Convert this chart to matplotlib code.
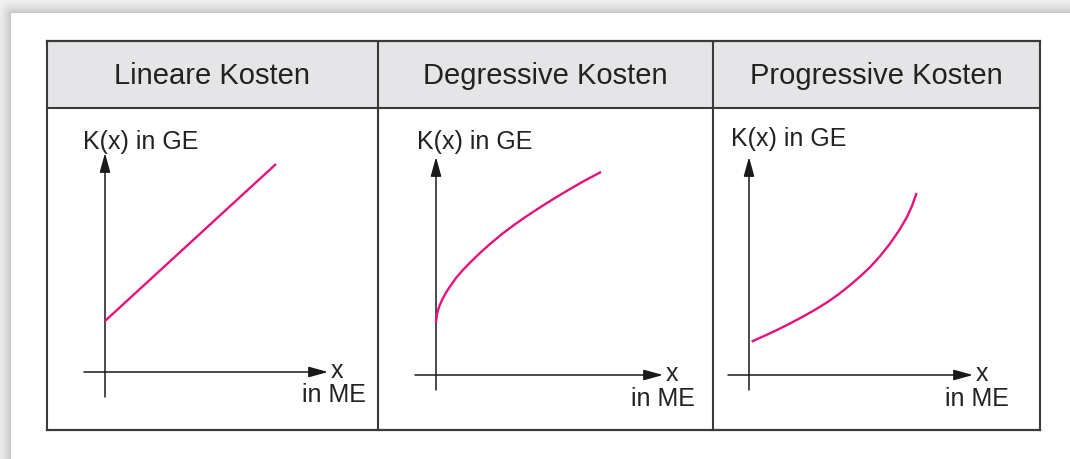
# %%
## Imports ##

import numpy as np
import matplotlib

matplotlib.use("Agg")
import matplotlib.pyplot as plt
from matplotlib.patches import Rectangle

plt.rcParams["font.family"] = ["Liberation Sans", "DejaVu Sans"]

# %%
## Data ##

headers = ["Lineare Kosten", "Degressive Kosten", "Progressive Kosten"]
y_label = "K(x) in GE"
x_label = "x"
x_unit = "in ME"

# curves (x in ME, K(x) in GE, arbitrary units)
linear_x = [0.0, 8.55]
linear_y = [2.55, 10.4]

degressive_x = [0.0, 0.05, 0.15, 0.3, 0.5, 0.75, 1.0, 1.3, 1.7, 2.2,
                2.7, 3.3, 3.9, 4.5, 5.2, 5.9, 6.6, 7.4, 8.25]
degressive_y = [2.63, 3.05, 3.4, 3.75, 4.12, 4.5, 4.85, 5.2, 5.62, 6.1,
                6.55, 7.05, 7.5, 7.92, 8.38, 8.82, 9.24, 9.7, 10.15]

progressive_x = [0.13, 0.8, 1.4, 2.0, 2.7, 3.3, 3.9, 4.5, 5.05, 5.55,
                 6.05, 6.55, 7.05, 7.5, 7.9, 8.15, 8.38]
progressive_y = [1.67, 1.97, 2.25, 2.55, 2.92, 3.26, 3.63, 4.05, 4.49, 4.92,
                 5.39, 5.94, 6.57, 7.22, 7.9, 8.45, 9.1]

curves = [
    (linear_x, linear_y),
    (degressive_x, degressive_y),
    (progressive_x, progressive_y),
]

# %%
## Layout (pixels) ##

W, H = 1070, 459
PX = 20.0  # pixels per data unit
table_left, table_right = 47, 1040
table_top, header_bottom, table_bottom = 41, 108, 430
col_edges = [47, 378, 713, 1040]
origins = [(105, 372), (436, 375), (749, 375)]
x_axis_ext = [(-1.05, 11.15), (-1.05, 11.35), (-1.05, 11.2)]
y_axis_ext = [(-1.25, 10.95), (-0.75, 10.9), (-0.75, 10.9)]
ylabel_pos = [(-1.1, 11.5), (-0.97, 11.67), (-0.92, 11.78)]
unit_pos = [(13.05, -1.15), (12.95, -1.2), (13.0, -1.2)]

pink = "#e5127d"
line_col = "#3a3a3a"
text_col = "#222222"

fig = plt.figure(figsize=(W / 100, H / 100), dpi=100)
bg = fig.add_axes([0, 0, 1, 1])
bg.set_xlim(0, W)
bg.set_ylim(H, 0)
bg.axis("off")

# page drop shadow at top and left
yy, xx = np.mgrid[0:H, 0:W]
dx = np.clip(11 - xx, 0, None)
dy = np.clip(13 - yy, 0, None)
dist = np.hypot(dx, dy)
shade = np.where(dist > 0, 1 - 0.24 * np.exp(-dist / 10), 1.0)
bg.imshow(shade, cmap="gray", vmin=0, vmax=1, extent=[0, W, H, 0], zorder=0)

# table
bg.add_patch(
    Rectangle(
        (table_left, table_top),
        table_right - table_left,
        header_bottom - table_top,
        facecolor="#e5e5e7",
        edgecolor="none",
        zorder=1,
    )
)
bg.plot([table_left, table_right], [header_bottom] * 2, color=line_col, lw=1.5, zorder=2)
for xe in col_edges:
    bg.plot([xe, xe], [table_top, table_bottom], color=line_col, lw=1.5, zorder=2)
bg.plot([table_left, table_right], [table_top] * 2, color=line_col, lw=1.6, zorder=2)
bg.plot([table_left, table_right], [table_bottom] * 2, color=line_col, lw=1.6, zorder=2)

for i, title in enumerate(headers):
    cx = (col_edges[i] + col_edges[i + 1]) / 2
    bg.text(cx, 76, title, ha="center", va="center", fontsize=21, color=text_col)

# %%
## Panels ##

arrow_kw = dict(
    arrowstyle="-|>,head_length=0.65,head_width=0.18",
    color="#1a1a1a",
    lw=1.1,
    mutation_scale=18,
    shrinkA=0,
    shrinkB=0,
)

for i, (cx, cy) in enumerate(curves):
    ox, oy = origins[i]
    left, right = col_edges[i], col_edges[i + 1]
    ax = fig.add_axes(
        [left / W, (H - table_bottom) / H, (right - left) / W, (table_bottom - header_bottom) / H]
    )
    ax.set_xlim((left - ox) / PX, (right - ox) / PX)
    ax.set_ylim((oy - table_bottom) / PX, (oy - header_bottom) / PX)
    ax.axis("off")
    ax.patch.set_alpha(0)

    x0, x1 = x_axis_ext[i]
    y0, y1 = y_axis_ext[i]
    ax.annotate("", xy=(x1, 0), xytext=(x0, 0), arrowprops=arrow_kw)
    ax.annotate("", xy=(0, y1), xytext=(0, y0), arrowprops=arrow_kw)

    ax.plot(cx, cy, color=pink, lw=1.7, solid_capstyle="butt",
            solid_joinstyle="round", zorder=3)

    lx, ly = ylabel_pos[i]
    ax.text(lx, ly, y_label, ha="left", va="center", fontsize=18, color=text_col)
    ax.text(x1 + 0.15, 0.05, x_label, ha="left", va="center", fontsize=18, color=text_col)
    ux, uy = unit_pos[i]
    ax.text(ux, uy, x_unit, ha="right", va="center", fontsize=18, color=text_col)

fig.savefig("out.png", dpi=100)
